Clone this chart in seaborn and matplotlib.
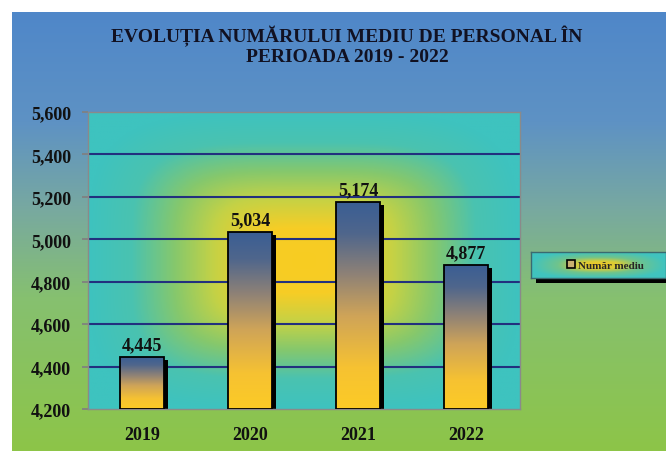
import numpy as np
import pandas as pd
import matplotlib
matplotlib.use("Agg")
import matplotlib.pyplot as plt
import seaborn as sns
from matplotlib.colors import LinearSegmentedColormap
from matplotlib.patches import Rectangle, Patch
from matplotlib.transforms import ScaledTranslation

years = ["2019", "2020", "2021", "2022"]
values = [4445, 5034, 5174, 4877]
yticks = [4200, 4400, 4600, 4800, 5000, 5200, 5400, 5600]
title = "EVOLUȚIA NUMĂRULUI MEDIU DE PERSONAL ÎN\nPERIOADA 2019 - 2022"
series_name = "Număr mediu"

sns.set_theme(style="white")
plt.rcParams['font.family'] = ['Liberation Serif', 'DejaVu Serif']

W, H = 666, 452
fig = plt.figure(figsize=(W / 100, H / 100), dpi=100)
fig.patch.set_facecolor("white")

# outer background gradient (blue top -> green bottom)
bg = fig.add_axes([12 / W, 0, (W - 12) / W, (H - 13) / H], zorder=-10)
bg_cmap = LinearSegmentedColormap.from_list(
    "bg", [(0, "#8dc548"), (0.35, "#86c070"), (0.55, "#78a9a0"), (0.75, "#5e92c4"), (1, "#4f87c9")])
grad = np.linspace(0, 1, 256).reshape(-1, 1)
bg.imshow(grad, cmap=bg_cmap, aspect="auto", origin="lower", extent=(0, 1, 0, 1))
bg.set_axis_off()

# plot area
ax = fig.add_axes([88 / W, 42 / H, 432 / W, 297 / H], zorder=1)
ax.patch.set_visible(False)

def rect_gradient(n=300, cx=0.5, cy=0.5, p=3.0):
    xx, yy = np.meshgrid(np.linspace(0, 1, n), np.linspace(0, 1, n))
    d = ((np.abs(xx - cx) / 0.5) ** p + (np.abs(yy - cy) / 0.5) ** p) ** (1 / p)
    return np.clip(d, 0, 1)

pa_cmap = LinearSegmentedColormap.from_list(
    "pa", [(0, "#f8cc22"), (0.22, "#f6cd26"), (0.42, "#c4d246"), (0.6, "#86c86c"),
           (0.8, "#4ac2b0"), (1, "#3ec3bf")])
ax.imshow(rect_gradient(cy=0.5, p=4.0), cmap=pa_cmap, aspect="auto", origin="lower",
          extent=(0, 1, 0, 1), transform=ax.transAxes, zorder=-2, vmin=0, vmax=1)

df = pd.DataFrame({"year": years, "value": values})
sns.barplot(data=df, x="year", y="value", ax=ax, width=0.4, color="#f0c030",
            zorder=2, edgecolor="none")

ymin, ymax = yticks[0], yticks[-1]
ax.set_ylim(ymin, ymax)
ax.set_xlim(-0.5, len(years) - 0.5)

bar_cmap = LinearSegmentedColormap.from_list(
    "bar", [(0, "#fccb26"), (0.2, "#f6c232"), (0.45, "#cfa458"), (0.65, "#8f8276"),
            (0.85, "#4f668c"), (1, "#3a5e94")])
vgrad = np.linspace(0, 1, 256).reshape(-1, 1)
shadow_off = ScaledTranslation(4 / 100, -3 / 100, fig.dpi_scale_trans)
for bar in ax.patches:
    x, w, h = bar.get_x(), bar.get_width(), bar.get_height()
    top = bar.get_y() + h
    bar.set_visible(False)
    sh = Rectangle((x, ymin), w, top - ymin, facecolor="black", edgecolor="none",
                   transform=ax.transData + shadow_off, zorder=2)
    ax.add_patch(sh)
    ax.imshow(vgrad, cmap=bar_cmap, aspect="auto", origin="lower",
              extent=(x, x + w, ymin, top), zorder=3)
    ax.add_patch(Rectangle((x, ymin), w, top - ymin, facecolor="none",
                           edgecolor="black", lw=1.3, zorder=4))
    ax.text(x + w / 2, top, f"{int(round(top)):,}", ha="center", va="bottom",
            fontsize=13, fontweight="bold", color="#111111",
            transform=ax.transData + ScaledTranslation(0, 4 / 100, fig.dpi_scale_trans),
            zorder=5)

ax.set_ylim(ymin, ymax)
ax.set_xlim(-0.5, len(years) - 0.5)

for t in yticks[1:-1]:
    ax.axhline(t, color="#22307e", lw=1.5, zorder=1)

ax.set_yticks(yticks)
ax.set_yticklabels([f"{t:,}" for t in yticks], fontsize=13, fontweight="bold", color="#111111")
ax.set_xticks(range(len(years)))
ax.set_xticklabels(years, fontsize=13, fontweight="bold", color="#111111")
ax.set_xticks(np.arange(-0.5, len(years)), minor=True)
ax.tick_params(axis="x", which="major", length=0, pad=12)
ax.tick_params(axis="x", which="minor", length=4, color="#808080", direction="out")
ax.tick_params(axis="y", length=4, color="#808080", direction="out", left=True, pad=8)
ax.set_xlabel("")
ax.set_ylabel("")
for s in ax.spines.values():
    s.set_visible(True)
    s.set_color("#8a8a8a")
    s.set_linewidth(1)

# title
fig.text(347 / W, 1 - 46 / H, title, ha="center", va="center", fontsize=14,
         fontweight="bold", color="#111122", linespacing=1.15)

# legend box with gradient and shadow
lx0, ly0, lw_, lh_ = 531, 253, 135, 26
shadow = Rectangle(((lx0 + 5) / W, 1 - (ly0 + lh_ + 5) / H), (lw_) / W, lh_ / H,
                   transform=fig.transFigure, facecolor="black", edgecolor="none", zorder=4)
fig.add_artist(shadow)
lax = fig.add_axes([lx0 / W, 1 - (ly0 + lh_) / H, lw_ / W, lh_ / H], zorder=5)
lg_cmap = LinearSegmentedColormap.from_list(
    "lg", [(0, "#f6cb22"), (0.3, "#d8cc38"), (0.6, "#70c48c"), (1, "#40c3bf")])
lax.imshow(rect_gradient(n=200, p=2.5), cmap=lg_cmap, aspect="auto", origin="lower",
           extent=(0, 1, 0, 1), vmin=0, vmax=1)
lax.set_xticks([])
lax.set_yticks([])
for s in lax.spines.values():
    s.set_color("#3a6a70")
    s.set_linewidth(1)
handle = Patch(facecolor="#c8b070", edgecolor="black", linewidth=1.2)
lax.legend(handles=[handle], labels=[series_name], loc="center", frameon=False,
           prop={"family": "Liberation Serif", "weight": "bold", "size": 8},
           handlelength=0.7, handleheight=0.7, handletextpad=0.3,
           bbox_to_anchor=(0.55, 0.5))

fig.savefig("out.png", dpi=100)
